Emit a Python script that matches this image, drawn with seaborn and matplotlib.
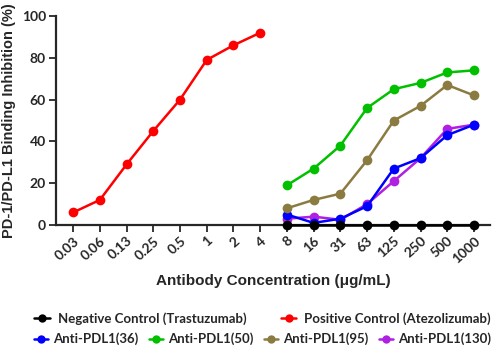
import matplotlib
matplotlib.use("Agg")
import matplotlib.pyplot as plt
import seaborn as sns
import pandas as pd
from matplotlib.lines import Line2D

concentrations = ["0.03", "0.06", "0.13", "0.25", "0.5", "1", "2", "4",
                  "8", "16", "31", "63", "125", "250", "500", "1000"]
pos_conc = concentrations[:8]
ab_conc = concentrations[8:]

positive = [6, 12, 29, 45, 60, 79, 86, 92]
negative = [0, 0, 0, 0, 0, 0, 0, 0]
pdl1_36 = [5, 1, 3, 9, 27, 32, 43, 48]
pdl1_50 = [19, 27, 38, 56, 65, 68, 73, 74]
pdl1_95 = [8, 12, 15, 31, 50, 57, 67, 62]
pdl1_130 = [3, 4, 2.5, 10, 21, 32, 46, 48]

names = ["Negative Control (Trastuzumab)", "Positive Control (Atezolizumab)",
         "Anti-PDL1(36)", "Anti-PDL1(50)", "Anti-PDL1(95)", "Anti-PDL1(130)"]
colors = ["#000000", "#ff0000", "#0000ff", "#00c000", "#8b7b40", "#b020e0"]

series = [(names[0], ab_conc, negative), (names[1], pos_conc, positive),
          (names[2], ab_conc, pdl1_36), (names[3], ab_conc, pdl1_50),
          (names[4], ab_conc, pdl1_95), (names[5], ab_conc, pdl1_130)]
rows = []
for n, xs, ys in series:
    for x, y in zip(xs, ys):
        rows.append({"series": n, "pos": concentrations.index(x), "val": y})
df = pd.DataFrame(rows)

sns.set_style("ticks")
fig = plt.figure(figsize=(4.98, 3.56), dpi=100)
ax = fig.add_axes([0.112, 0.368, 0.872, 0.587])

draw_order = [names[1], names[5], names[2], names[4], names[3], names[0]]
for n in draw_order:
    i = names.index(n)
    sub = df[df.series == n]
    sns.lineplot(data=sub, x="pos", y="val", ax=ax, color=colors[i], lw=1.8,
                 marker="o", markersize=7, markeredgewidth=0, legend=False,
                 clip_on=False, zorder=3 if i else 4)

ax.set_xlim(-0.65, 15.6)
ax.set_ylim(0, 100)
ax.set_yticks([0, 20, 40, 60, 80, 100])
ax.set_xticks(range(len(concentrations)))
ax.set_xticklabels(concentrations, rotation=42, ha="right", rotation_mode="anchor")
for lab in ax.get_xticklabels() + ax.get_yticklabels():
    lab.set_fontweight("bold")
    lab.set_fontsize(10)
    lab.set_family("Lato")
sns.despine(ax=ax)
ax.spines["left"].set_linewidth(1.6)
ax.spines["bottom"].set_linewidth(1.6)
ax.tick_params(width=1.3, length=5, pad=2)
ax.set_xlabel("Antibody Concentration (μg/mL)", fontweight="bold", fontsize=11,
              family="Liberation Sans", labelpad=6)
ax.set_ylabel("PD-1/PD-L1 Binding Inhibition (%)", fontweight="bold", fontsize=10.5,
              family="Liberation Sans", labelpad=4)

def handle(c):
    return Line2D([], [], color=c, lw=1.8, marker="o", markersize=6, markeredgewidth=0)

prop = {"family": "Lato", "weight": "bold", "size": 9.5}
leg1 = fig.legend([handle(colors[0]), handle(colors[1])], names[:2], ncol=2,
                  loc="center", bbox_to_anchor=(0.527, 0.105), frameon=False,
                  handlelength=1.2, handletextpad=0.6, columnspacing=2.6, prop=prop)
leg2 = fig.legend([handle(c) for c in colors[2:]], names[2:], ncol=4,
                  loc="center", bbox_to_anchor=(0.527, 0.048), frameon=False,
                  handlelength=1.1, handletextpad=0.4, columnspacing=0.75,
                  borderpad=0.1, prop=prop)

fig.savefig("out.png", dpi=100)
